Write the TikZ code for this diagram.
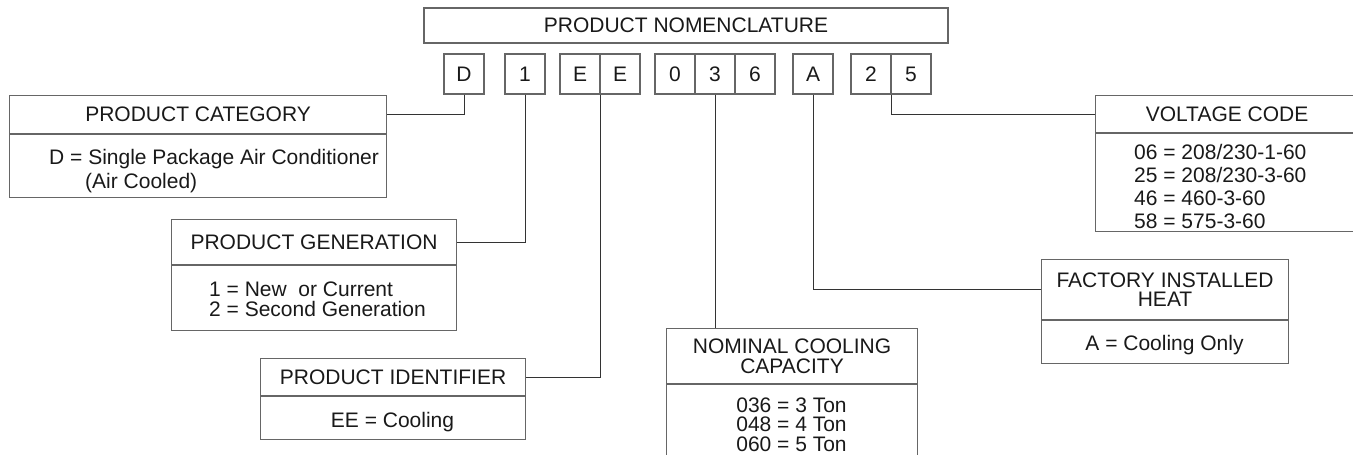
\documentclass[tikz,border=0pt]{standalone}
\usepackage{fontspec}
\setmainfont{Liberation Sans}
\begin{document}
\begin{tikzpicture}[x=1pt, y=-1pt,
  every node/.style={font=\fontsize{21}{19.5}\selectfont, text=black!90},
  frame/.style={draw=black!60, line width=1.1pt, inner sep=0pt},
  letter/.style={frame, minimum width=40pt, minimum height=40pt},
  txt/.style={inner sep=0pt},
  lead/.style={draw=black!80, line width=0.9pt}]
  \useasboundingbox (0,0) rectangle (1353,455);

  % Title
  \node[frame, minimum width=524pt, minimum height=35pt] (title) at (686,25.5) {PRODUCT NOMENCLATURE};

  % Code letters
  \foreach \c/\x/\n in {D/464/D, 1/525/1, E/580/E1, E/620/E2, 0/675/0, 3/715/3, 6/755/6, A/813/A, 2/871/2, 5/911/5}
    \node[letter] (ltr\n) at (\x,74) {\c};

  % Product category
  \node[frame, minimum width=377pt, minimum height=38pt, anchor=north west] (cat) at (9,95) {PRODUCT CATEGORY};
  \node[frame, minimum width=377pt, minimum height=63pt, anchor=north] (catbody) at (cat.south) {};
  \node[txt, anchor=base west] (cattxt1) at (49,164) {D = Single Package Air Conditioner};
  \node[txt, anchor=base west] (cattxt2) at (85,188) {(Air Cooled)};

  % Product generation
  \node[frame, minimum width=285pt, minimum height=45pt, anchor=north west] (gen) at (171,219) {PRODUCT GENERATION};
  \node[frame, minimum width=285pt, minimum height=65pt, anchor=north] (genbody) at (gen.south) {};
  \node[txt, anchor=base west] (gentxt1) at (209,296) {1 = New\ \ or Current};
  \node[txt, anchor=base west] (gentxt2) at (209,316) {2 = Second Generation};

  % Product identifier
  \node[frame, minimum width=265pt, minimum height=37pt, anchor=north west] (ident) at (260,358) {PRODUCT IDENTIFIER};
  \node[frame, minimum width=265pt, minimum height=43pt, anchor=north] (identbody) at (ident.south) {};
  \node[txt, anchor=base] (identtxt) at (392.5,427) {EE = Cooling};

  % Nominal cooling capacity
  \node[frame, minimum width=251pt, minimum height=55pt, anchor=north west, align=center] (cap) at (666,328) {NOMINAL COOLING\\CAPACITY};
  \node[frame, minimum width=251pt, minimum height=90pt, anchor=north] (capbody) at (cap.south) {};
  \foreach \t/\y/\n in {036 = 3 Ton/412/1, 048 = 4 Ton/431.5/2, 060 = 5 Ton/451/3}
    \node[txt, anchor=base] (captxt\n) at (791.5,\y) {\t};

  % Factory installed heat
  \node[frame, minimum width=247pt, minimum height=60pt, anchor=north west, align=center] (fac) at (1041,259) {FACTORY INSTALLED\\HEAT};
  \node[frame, minimum width=247pt, minimum height=43pt, anchor=north] (facbody) at (fac.south) {};
  \node[txt, anchor=base] (factxt) at (1164.5,350) {A = Cooling Only};

  % Voltage code
  \node[frame, minimum width=263pt, minimum height=37pt, anchor=north west] (volt) at (1095,95) {VOLTAGE CODE};
  \node[frame, minimum width=263pt, minimum height=98pt, anchor=north] (voltbody) at (volt.south) {};
  \foreach \t/\y/\n in {{06 = 208/230-1-60}/159/1, {25 = 208/230-3-60}/182/2, {46 = 460-3-60}/205/3, {58 = 575-3-60}/228/4}
    \node[txt, anchor=base west] (volttxt\n) at (1134,\y) {\t};

  % Leaders
  \draw[lead] (ltrD.south) |- (cat.east);
  \draw[lead] (ltr1.south) |- (gen.east);
  \draw[lead] (ltrE1.south east) |- (ident.east);
  \draw[lead] (ltr3.south) -- (ltr3.south |- cap.north);
  \draw[lead] (ltrA.south) |- (fac.west);
  \draw[lead] (ltr2.south east) |- (volt.west);
\end{tikzpicture}
\end{document}
